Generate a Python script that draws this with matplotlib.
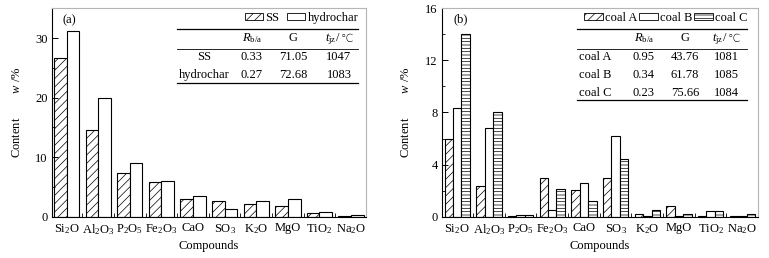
import matplotlib
matplotlib.use("Agg")

import matplotlib.pyplot as plt
from matplotlib.patches import Patch
from matplotlib.ticker import MultipleLocator, FixedLocator
import numpy as np

# data
compounds = ["Si$_2$O", "Al$_2$O$_3$", "P$_2$O$_5$", "Fe$_2$O$_3$", "CaO",
             "SO$_3$", "K$_2$O", "MgO", "TiO$_2$", "Na$_2$O"]

ss = [26.7, 14.6, 7.4, 5.9, 2.9, 2.64, 2.08, 1.85, 0.67, 0.12]
hydrochar = [31.1, 19.9, 9.0, 6.06, 3.43, 1.24, 2.7, 2.92, 0.79, 0.23]

coal_a = [6.0, 2.32, 0.05, 2.97, 2.04, 2.97, 0.18, 0.83, 0.08, 0.04]
coal_b = [8.37, 6.83, 0.12, 0.52, 2.62, 6.23, 0.05, 0.05, 0.44, 0.03]
coal_c = [14.0, 8.0, 0.1, 2.11, 1.19, 4.43, 0.52, 0.18, 0.44, 0.18]

table_a_rows = ["SS", "hydrochar"]
table_a_rba = ["0.33", "0.27"]
table_a_g = ["71.05", "72.68"]
table_a_t = ["1047", "1083"]

table_b_rows = ["coal A", "coal B", "coal C"]
table_b_rba = ["0.95", "0.34", "0.23"]
table_b_g = ["43.76", "61.78", "75.66"]
table_b_t = ["1081", "1085", "1084"]

plt.rcParams["font.family"] = ["Liberation Serif", "DejaVu Sans"]
plt.rcParams["font.size"] = 9
plt.rcParams["mathtext.fontset"] = "custom"
plt.rcParams["mathtext.rm"] = "Liberation Serif"
plt.rcParams["mathtext.it"] = "Liberation Serif:italic"
plt.rcParams["hatch.linewidth"] = 0.5

fig = plt.figure(figsize=(7.69, 2.58), dpi=100)
ax1 = fig.add_axes([0.0672, 0.160, 0.4087, 0.808])
ax2 = fig.add_axes([0.5748, 0.160, 0.4103, 0.808])

x = np.arange(len(compounds))
bar_kw = dict(color="white", edgecolor="black", linewidth=0.8)

# (a)
w = 0.4
ax1.bar(x - w / 2, ss, w, hatch="////", **bar_kw)
ax1.bar(x + w / 2, hydrochar, w, **bar_kw)
ax1.set_ylim(0, 35)
ax1.set_xlim(-0.47, 9.47)
ax1.yaxis.set_major_locator(MultipleLocator(10))
ax1.yaxis.set_minor_locator(MultipleLocator(5))

# (b)
w = 0.8 / 3
ax2.bar(x - w, coal_a, w, hatch="////", **bar_kw)
ax2.bar(x, coal_b, w, **bar_kw)
ax2.bar(x + w, coal_c, w, hatch="-----", **bar_kw)
ax2.set_ylim(0, 16)
ax2.set_xlim(-0.48, 9.48)
ax2.yaxis.set_major_locator(MultipleLocator(4))
ax2.yaxis.set_minor_locator(MultipleLocator(2))

for ax in (ax1, ax2):
    ax.set_xticks(x)
    ax.set_xticklabels(compounds)
    ax.xaxis.set_minor_locator(FixedLocator(x[:-1] + 0.5))
    ax.tick_params(axis="x", which="major", length=0, pad=4)
    ax.tick_params(axis="x", which="minor", direction="in", length=3, width=0.6)
    ax.tick_params(axis="y", which="major", direction="in", length=4, width=0.7, pad=3)
    ax.tick_params(axis="y", which="minor", direction="in", length=2.5, width=0.6)
    ax.spines["left"].set_linewidth(0.8)
    ax.spines["bottom"].set_linewidth(0.8)
    for s in ("top", "right"):
        ax.spines[s].set_color("#b5b5b5")
        ax.spines[s].set_linewidth(0.8)
    ax.set_xlabel("Compounds", labelpad=2)
    ax.set_ylabel("Content        $w$ /%")
ax1.yaxis.set_label_coords(-0.092, 0.5)
ax2.yaxis.set_label_coords(-0.096, 0.5)

ax1.text(0.036, 0.944, "(a)", transform=ax1.transAxes, va="center", ha="left")
ax2.text(0.035, 0.947, "(b)", transform=ax2.transAxes, va="center", ha="left")

leg_kw = dict(frameon=False, handlelength=1.5, handleheight=0.55, handletextpad=0.15,
              borderpad=0, borderaxespad=0, loc="center right")
ax1.legend(handles=[Patch(facecolor="white", edgecolor="black", lw=0.6, hatch="////", label="SS"),
                    Patch(facecolor="white", edgecolor="black", lw=0.6, label="hydrochar")],
           ncol=2, columnspacing=0.6, bbox_to_anchor=(0.975, 0.953), **leg_kw)
ax2.legend(handles=[Patch(facecolor="white", edgecolor="black", lw=0.6, hatch="////", label="coal A"),
                    Patch(facecolor="white", edgecolor="black", lw=0.6, label="coal B"),
                    Patch(facecolor="white", edgecolor="black", lw=0.6, hatch="-----", label="coal C")],
           ncol=3, columnspacing=0.15, bbox_to_anchor=(0.967, 0.953), **leg_kw)

renderer = fig.canvas.get_renderer()


def t_header(ax, cx, cy):
    # "t_jz" is mathtext, "/℃" is plain text so the font fallback finds ℃
    px, py = ax.transAxes.transform((cx, cy))
    base = py - 3.5
    t1 = fig.text(0, base, "$t_{\\rm jz}$/", transform=None, va="baseline", ha="left")
    t2 = fig.text(0, base, "\u2103", transform=None, va="baseline", ha="left",
                  fontsize=8, fontweight="light")
    w1 = t1.get_window_extent(renderer).width
    w2 = t2.get_window_extent(renderer).width
    x0 = px - (w1 + w2) / 2
    t1.set_x(x0)
    t2.set_x(x0 + w1)


def draw_table(ax, rows, rba, g, t, cols, xl, xr, ys):
    tr = ax.transAxes
    ax.text(cols[1], ys["header"], "$R_{\\rm b/a}$", transform=tr, ha="center", va="center")
    ax.text(cols[2], ys["header"], "G", transform=tr, ha="center", va="center")
    t_header(ax, cols[3], ys["header"])
    for i, name in enumerate(rows):
        yy = ys["rows"][i]
        for cx, val in zip(cols, [name, rba[i], g[i], t[i]]):
            ax.text(cx, yy, val, transform=tr, ha="center", va="center")
    for yl in (ys["top"], ys["mid"], ys["bottom"]):
        lw = 0.6 if yl == ys["mid"] else 0.9
        ax.plot([xl, xr], [yl, yl], transform=tr, color="black", lw=lw, clip_on=False)


draw_table(ax1, table_a_rows, table_a_rba, table_a_g, table_a_t,
           [0.485, 0.637, 0.768, 0.914], 0.399, 0.975,
           dict(header=0.857, rows=[0.766, 0.680], top=0.900, mid=0.805, bottom=0.642))
draw_table(ax2, table_b_rows, table_b_rba, table_b_g, table_b_t,
           [0.485, 0.640, 0.770, 0.900], 0.428, 0.967,
           dict(header=0.857, rows=[0.766, 0.680, 0.594], top=0.900, mid=0.805, bottom=0.560))

plt.savefig("out.png", dpi=100)
